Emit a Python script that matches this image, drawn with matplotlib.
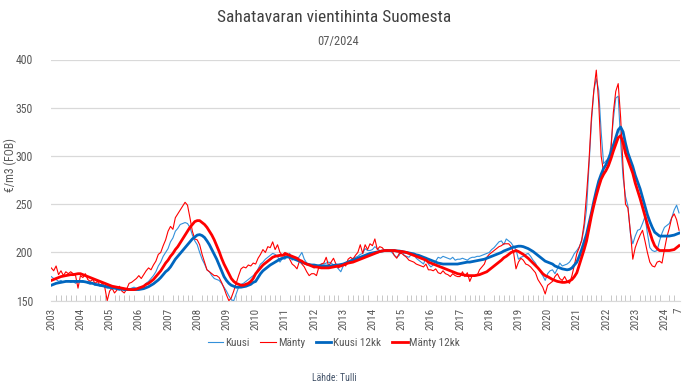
import numpy as np
import matplotlib
matplotlib.use("Agg")
import matplotlib.pyplot as plt
from matplotlib.ticker import MultipleLocator

plt.rcParams['font.family'] = ['Roboto Condensed', 'Liberation Sans Narrow', 'Liberation Sans', 'DejaVu Sans']

# monthly export prices, 01/2003 - 07/2024 (EUR/m3 FOB), one row per year
kuusi = [
    175, 173, 172, 170, 171, 169, 170, 171, 169, 170, 168, 170,
    170, 169, 170, 168, 167, 168, 166, 167, 165, 166, 164, 163,
    163, 162, 164, 162, 161, 163, 162, 161, 162, 163, 164, 163,
    164, 164, 165, 168, 170, 173, 176, 180, 186, 190, 196, 200,
    204, 211, 215, 222, 225, 229, 230, 231, 230, 226, 218, 212,
    208, 200, 193, 188, 182, 180, 176, 173, 172, 171, 168, 164,
    160, 155, 151, 150, 157, 164, 167, 168, 170, 172, 174, 176,
    178, 183, 188, 190, 193, 195, 197, 199, 198, 196, 190, 194,
    193, 196, 199, 192, 195, 192, 196, 200, 193, 189, 187, 186,
    184, 186, 187, 188, 188, 189, 190, 189, 187, 186, 183, 180,
    186, 189, 191, 192, 194, 195, 196, 198, 199, 204, 202, 202,
    203, 206, 204, 202, 201, 202, 201, 202, 200, 197, 195, 197,
    202, 197, 196, 195, 198, 199, 194, 192, 190, 188, 195, 188,
    185, 187, 191, 195, 194, 196, 195, 194, 193, 195, 192, 193,
    193, 194, 193, 192, 194, 195, 195, 196, 196, 197, 198, 199,
    200, 203, 205, 208, 211, 212, 208, 214, 212, 210, 206, 203,
    193, 195, 196, 198, 199, 196, 192, 189, 184, 180, 176, 171,
    178, 181, 182, 178, 183, 189, 186, 187, 188, 190, 194, 199,
    202, 206, 212, 225, 245, 290, 335, 368, 380, 368, 325, 292,
    295, 297, 310, 338, 360, 362, 315, 278, 258, 248, 220, 209,
    217, 223, 224, 230, 237, 220, 205, 202, 201, 202, 212, 220,
    226, 228, 230, 236, 244, 249, 241,
]

manty = [
    184, 181, 186, 177, 181, 176, 180, 178, 180, 178, 176, 163,
    176, 174, 178, 172, 170, 172, 168, 170, 166, 168, 164, 150,
    160, 163, 158, 161, 165, 160, 158, 162, 168, 169, 171, 173,
    176, 173, 177, 181, 184, 182, 187, 191, 198, 200, 207, 213,
    222, 227, 224, 236, 240, 244, 248, 252, 249, 236, 222, 214,
    213, 208, 198, 190, 182, 180, 178, 176, 176, 174, 169, 163,
    156, 150, 153, 160, 168, 176, 183, 185, 184, 187, 186, 189,
    188, 194, 198, 203, 200, 206, 205, 211, 203, 208, 200, 197,
    200, 199, 193, 188, 186, 183, 191, 188, 185, 180, 176, 178,
    178, 176, 185, 188, 189, 195, 186, 190, 194, 188, 184, 186,
    188, 186, 193, 195, 193, 197, 200, 208, 199, 208, 203, 209,
    207, 214, 203, 206, 205, 202, 203, 201, 202, 197, 194, 199,
    199, 197, 195, 192, 191, 190, 188, 187, 186, 185, 188, 182,
    182, 181, 183, 179, 178, 181, 178, 177, 175, 178, 176, 175,
    175, 180, 175, 179, 170, 176, 176, 176, 182, 185, 188, 195,
    198, 200, 202, 204, 206, 207, 209, 209, 209, 206, 200, 183,
    190, 194, 192, 188, 187, 185, 182, 179, 172, 168, 164, 157,
    166, 168, 170, 175, 178, 173, 171, 175, 170, 168, 176, 187,
    199, 205, 213, 230, 260, 295, 340, 368, 389, 355, 300, 283,
    284, 292, 305, 345, 367, 375, 340, 288, 250, 246, 222, 193,
    205, 212, 218, 223, 212, 200, 190, 186, 185, 190, 191, 189,
    203, 216, 225, 236, 240, 234, 223,
]

kuusi_12kk = [
    166, 167, 168, 168.5, 169, 169.5, 170, 170, 170, 170, 170, 170,
    170, 170, 169.5, 169, 168.5, 168, 167, 166.5, 166, 165.5, 165, 164.5,
    164, 163.5, 163, 162.5, 162, 162, 161.5, 161.5, 161.5, 161.5, 161.5, 161.5,
    161.6, 162, 162.5, 163.5, 164.5, 166, 167.5, 169.5, 171.5, 174, 177, 180,
    182, 185, 189, 193, 196, 199, 202, 205, 208, 211, 214, 216,
    218, 218.5, 217.5, 215.5, 212, 208, 203, 198, 193, 187, 181, 175,
    171, 168, 166, 165, 164, 164, 164, 164.5, 165, 166, 167, 169,
    170, 174, 178, 181, 183, 185, 187, 188.5, 190, 191.5, 193, 194,
    195, 195.5, 195, 194, 193, 192, 191, 190, 189, 188, 187.5, 187,
    187, 186.5, 186, 186, 186, 186, 186, 186, 186.5, 187, 187, 187.5,
    188, 189, 190, 191, 192, 193, 194, 195, 196, 197, 198, 199,
    199.5, 200, 200.5, 201, 201.5, 202, 202, 202, 202, 202, 201.5, 201.5,
    201, 200.5, 200, 199.5, 199, 198.5, 197.5, 197, 196, 195, 194, 193,
    192, 191, 190, 189, 188.5, 188, 188, 188, 188, 188, 188, 188,
    188.5, 189, 189.5, 190, 190, 190.5, 191, 191.5, 192, 192.5, 193, 194,
    195, 196, 197, 198, 199, 200, 201.5, 202.5, 203.5, 204.5, 205.5, 206,
    206.5, 206.5, 206, 205, 204, 202.5, 201, 199, 197, 195, 193, 191,
    190, 189, 188, 186, 185, 184, 183, 182.5, 182, 182.5, 184, 187,
    190, 196, 203, 211, 219, 230, 241, 253, 264, 274, 281, 287,
    291, 297, 303, 311, 319, 327, 330, 325, 313, 303, 296, 289,
    280, 273, 266, 257, 248, 239, 232, 226, 221, 219, 217, 217,
    217, 217, 217, 217.5, 218, 219, 220,
]

manty_12kk = [
    171, 172, 173, 174, 175, 175.5, 176, 176.5, 177, 177, 177.5, 178,
    178, 177, 176, 175, 174, 173, 172, 171, 170, 169, 168, 167,
    166, 165, 164.5, 164, 163.5, 163, 162.5, 162, 161.5, 161.5, 161.5, 162,
    163, 164, 165, 167, 168, 170, 172, 175, 178, 181, 185, 189,
    192, 196, 199, 203, 206, 210, 214, 218, 222, 226, 229, 232,
    233, 233, 231, 229, 226, 222, 218, 213, 207, 201, 194, 188,
    183, 178, 173, 170, 168, 167, 166, 166, 167, 168, 170, 173,
    178, 181, 184, 187, 189, 191, 193, 195, 196, 196.5, 197, 197,
    198, 198, 197, 196, 195, 194, 192, 191, 189, 188, 187, 186,
    185, 185, 184.5, 184, 184, 184, 184, 184.5, 185, 185.5, 186, 186,
    187, 188, 189, 189.5, 190, 191, 192, 193, 194, 195, 196, 197,
    198, 199, 200, 201, 201.5, 202, 202, 202, 202, 202, 201.5, 201,
    201, 200.5, 200, 199, 198, 197, 196, 195, 194, 193, 192, 190,
    189, 188, 187, 186, 185, 184, 183, 182, 181, 180, 179, 178,
    177.5, 177, 176.5, 176, 176, 176, 176, 176.5, 177, 178, 179, 180,
    182, 184, 186, 188, 190, 192, 194.5, 196, 198, 200, 201, 202,
    201, 199.5, 198, 196, 194, 191.5, 189, 186.5, 184, 181, 178, 176,
    175, 173.5, 172, 171, 170, 169.5, 169, 169, 169.5, 170.5, 172, 175,
    179, 187, 195, 203, 212, 225, 238, 249, 259, 268, 276, 281,
    285, 290, 297, 305, 312, 319, 321, 314, 303, 296, 289, 282,
    272, 264, 256, 247, 238, 229, 221, 213, 207, 204, 202, 202,
    202, 202, 202, 202.5, 203, 205, 207,
]

tick_labels = ['2003', '2004', '2005', '2006', '2007', '2008', '2009', '2010',
               '2011', '2012', '2013', '2014', '2015', '2016', '2017', '2018',
               '2019', '2020', '2021', '2022', '2023', '2024', '7']
tick_pos = list(range(0, 253, 12)) + [258]

grey = '#595959'
fig = plt.figure(figsize=(6.9, 3.86), dpi=100)
ax = fig.add_axes([51 / 690, 1 - 300.7 / 386, (680 - 51) / 690, (300.7 - 59.5) / 386])

x = np.arange(len(kuusi))
ax.plot(x, kuusi, color='#3390DA', lw=0.8, label='Kuusi')
ax.plot(x, manty, color='#FF0000', lw=0.8, label='Mänty')
ax.plot(x, kuusi_12kk, color='#0066BF', lw=2.0, label='Kuusi 12kk')
ax.plot(x, manty_12kk, color='#FF0000', lw=2.0, label='Mänty 12kk')

ax.set_ylim(150, 400)
ax.set_yticks(range(150, 401, 50))
ax.set_xlim(-0.1, 258.4)
ax.set_xticks(tick_pos)
ax.set_xticklabels(tick_labels, rotation=90, fontsize=8, color=grey)
ax.xaxis.set_minor_locator(MultipleLocator(2))
ax.tick_params(axis='x', which='major', length=0, pad=5)
ax.tick_params(axis='x', which='minor', length=4, direction='in', color='#c8c8c8', width=0.7)
ax.tick_params(axis='y', length=0, labelsize=8.5, labelcolor=grey, pad=13)

ax.yaxis.grid(True, color='#d9d9d9', lw=0.9)
ax.set_axisbelow(True)
for s in ['top', 'right', 'left']:
    ax.spines[s].set_visible(False)
ax.spines['bottom'].set_color('#d9d9d9')

fig.text(10 / 690, 1 - 165 / 386, '€/m3 (FOB)', rotation=90, ha='center', va='center',
         fontsize=8.5, color=grey)
fig.text(0.484, 1 - 18 / 386, 'Sahatavaran vientihinta Suomesta', ha='center', va='center',
         fontsize=12.5, color='#404040')
fig.text(0.49, 1 - 41 / 386, '07/2024', ha='center', va='center', fontsize=9, color=grey)
fig.legend(loc='center', bbox_to_anchor=(0.484, 1 - 343 / 386), ncol=4, frameon=False,
           fontsize=8, handlelength=1.4, handletextpad=0.15, columnspacing=1.0,
           labelcolor=grey)
fig.text(0.484, 1 - 378 / 386, 'Lähde: Tulli', ha='center', va='center', fontsize=7,
         color='#44546A')

fig.savefig('out.png', dpi=100)
